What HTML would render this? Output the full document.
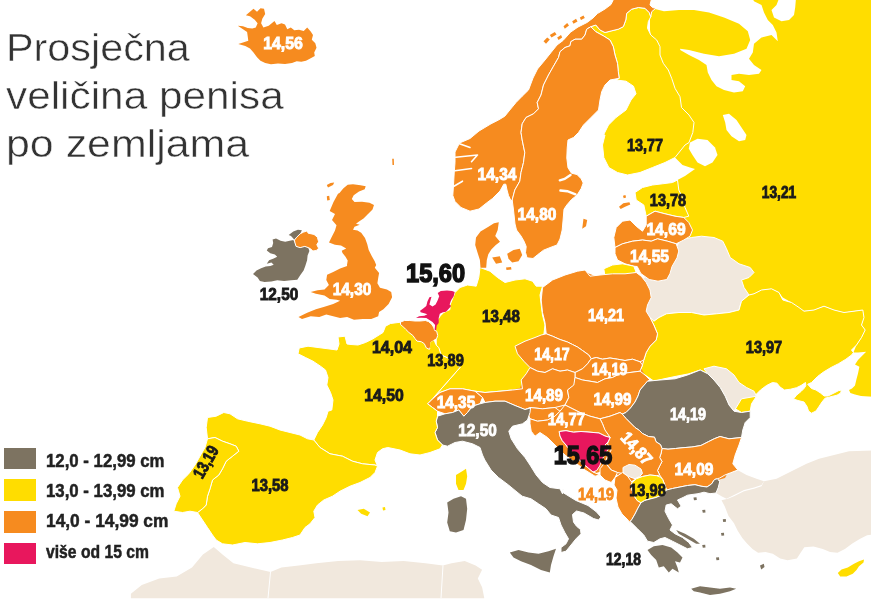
<!DOCTYPE html>
<html><head><meta charset="utf-8"><title>Prosječna veličina penisa po zemljama</title>
<style>
html,body{margin:0;padding:0;background:#fff;}
body{width:871px;height:600px;overflow:hidden;position:relative;font-family:"Liberation Sans",sans-serif;}
svg{position:absolute;left:0;top:0;}
svg text{font-family:"Liberation Sans",sans-serif;font-weight:bold;}
.title{position:absolute;left:6px;top:24px;font-size:38px;line-height:48px;color:#333;white-space:nowrap;-webkit-text-stroke:0.5px #fff;}
.title span{display:block;transform-origin:0 0;}
.legend{position:absolute;left:0;top:0;}
.sw{position:absolute;left:3.7px;width:32px;height:21.5px;}
.lt{position:absolute;left:45.5px;font-size:18.5px;font-weight:bold;color:#222;line-height:24px;white-space:nowrap;transform-origin:0 50%;-webkit-text-stroke:0.5px #222;}
</style></head><body>
<svg width="911" height="640" viewBox="-20 -20 911 640" style="left:-20px;top:-20px;filter:blur(0.45px)">
<g id="map">
<polygon points="130.9,593.8 141.8,585.1 159.3,578.5 176.7,576.4 192,567.6 202.9,554.5 213.8,547.1 222.5,554.5 233.4,563.3 250.9,567.6 270.5,572 281.4,567.6 298.9,565.4 316.3,563.3 338.2,561.1 360,560.2 381.8,562 403.6,561.1 425.4,563.3 442.9,565.4 451.6,563.3 464.7,561.1 475.6,565.4 482.1,569.8 477.8,578.5 482.1,587.3 484.3,598.2 130.9,598.2" fill="#f1e8dd"/>
<polygon points="719.7,478 724.9,475 730.9,472.7 738.4,470.5 746.5,475 756.5,478.8 764,481.2 761.5,485 754,487.5 744,490 734,495 726.5,498.8 721.5,496.2 716,493 718.2,487.7 719.7,481.7" fill="#f1e8dd"/>
<polygon points="764,481.2 776.5,478.8 786.5,473.8 796.5,468.8 806.5,463.8 819,458.8 834,455 849,451.2 885,450 885,532.5 867.1,535.3 859.7,539 852.3,543.6 844.9,549.1 837.5,552.8 830.1,551.9 822.8,549.1 813.5,546.4 804.3,547.3 800.6,552.8 796.9,558.4 787.6,560.2 780.2,558.4 772.8,553.8 765.5,551.9 758.1,552.8 752.5,549.1 747,543.6 742.3,538.1 737.7,530.7 734,523.3 728.5,515.9 724.8,506.6 721.5,500.2 727.8,498.8 734,496.2 744,491.2 754,488.8 761.5,486.2" fill="#f1e8dd"/>
<polygon points="650,-8 885,-8 885,397.5 861,396 855,394.5 850.4,393 849,390 852,388.5 855,385.5 856.4,379.5 858,373.5 859.4,366.7 855,364.5 858,360 862.4,355.5 866.2,351.7 858,352.5 853.4,352.5 856.5,345 861.5,337.5 865,330 861.5,325 864,317.5 862.75,310 854,311 844,312.5 834,310 824,306 814,310 804,311 796.5,307.5 791.5,302.5 782.75,297.5 779,292.5 771.5,288.75 761.5,290 754,293.75 749,295 720,290 690,250 680,220 677.5,184 677.5,180 685,176 690,172.5 695,169 690,167.5 682.5,165 675,157.5 660,100 650,30" fill="#ffdd00"/>
<polygon points="646,-8 749,-8 754,1.2 761.5,5 764,12.5 767.8,20 772.8,25 776.5,32.5 777.8,41.2 771.5,35 761.5,37.5 754,43.8 752.8,52.5 749,58.8 754,65 761.5,70 759,73.8 749,75 739,73.8 731.5,75 731.5,80 739,81.2 745.2,86.2 742.8,91.2 734,92.5 724,90 716.5,86.2 711.5,80 707.8,72.5 706.5,65 699,60 689,55 680.2,50 680.2,48.8 689,50 704,53.8 719,56.2 734,53.8 746.5,48.8 750.2,40 747.8,31.2 739,23.8 724,17.5 709,12.5 694,10 679,10 664,11.2 654,8.8 646,8" fill="#ffffff"/>
<polygon points="771.5,10 776.5,5 781.5,-8 796.5,-8 795.2,7.5 794,15 789,20 781.5,21.2 774,17.5" fill="#ffffff"/>
<polygon points="722.8,115 729,113.8 736.5,120 741.5,127.5 746.5,135 745.2,140 739,141.2 731.5,136.2 726.5,130 725.2,122.5" fill="#ffffff"/>
<polygon points="690,142.5 697.5,138.8 707.5,140 715,147.5 717.5,155 712.5,162.5 705,166.2 697.5,162.5 692.5,155 688.8,148.8" fill="#ffffff"/>
<polygon points="650,317.5 640,310 640,280 660,268 675,250 680,240 691.5,237.5 701.5,236.2 714,237.5 722.8,241.2 726.5,248.8 730.2,257.5 739,263.8 750.2,267.5 754,272.5 749,277.5 741.5,280 744,287.5 749,295 741.5,301.2 739,310 729,312.5 716.5,313.8 704,315 691.5,312.5 679,312.5 666.5,313.8 659,317.5 654,321.2" fill="#f1e8dd" stroke="#fff" stroke-width="1" stroke-linejoin="round"/>
<polygon points="654,321.2 659,317.5 666.5,313.8 679,312.5 691.5,312.5 704,315 716.5,313.8 729,312.5 739,310 741.5,301.2 749,295 754,293.8 761.5,290 771.5,288.8 779,292.5 782.8,300 791.5,302.5 799,307.5 804,311.2 814,310 824,306.2 834,310 844,312.5 854,311.2 862.8,310 864,317.5 861.5,325 865.2,330 861.5,337.5 856.5,345 851.5,350 853.4,352.5 851.9,354.7 845.9,359.2 838.5,363.7 831,367.5 823.5,372 817.5,376.5 811.5,382.5 807.7,384.3 811.5,388.5 816,390 820.5,393 824.2,396 828,396 834,393 838.5,390.7 841.4,390 840.7,393 837,395.2 831,396.7 825,398.2 822,402 819,406.5 816,411 811.5,413.2 808.5,411 807,406.5 804,402 798,400.5 793.5,399 796.5,395.2 801,391.5 804,388.5 805.8,385.8 805.5,382.5 801,385.5 796.5,387.7 790.5,389.2 784.5,390 780,387 777,383.2 772.5,382.5 766.5,385.5 760.5,390 754.5,396 756.5,396.2 751.5,403.8 750.2,411.2 741.5,412.5 729,405 707.8,373.8 700.2,370 689,373.8 676.5,376.2 664,378.8 654,381.2 645,375 640,371.8 642.5,365 643.8,360 646.2,352.5 650,346.2 656.2,340 657.5,333.8 653.8,325 650,317.5" fill="#ffdd00" stroke="#fff" stroke-width="1" stroke-linejoin="round"/>
<polygon points="707.8,373.8 704,368.8 714,366.2 726.5,368.8 734,375 739,382.5 746.5,387.5 754,391.2 756.5,396.2 749,397.5 741.5,398.8 737.8,405 734,411.2 729,405 725.2,396.2 720.2,387.5 714,380" fill="#f1e8dd" stroke="#fff" stroke-width="1" stroke-linejoin="round"/>
<polygon points="590.8,26.7 595.8,25 600,30 605,32.5 611.7,30.8 618.3,29.2 623.3,26.7 625.8,20 626.7,13.3 631.7,9.2 638.3,7.5 645,8.3 649.2,12.5 650.8,16.7 648.3,21.7 647.5,28.3 650.8,35 656.7,40 660,46.7 660,55 663.3,63.3 668.3,70 671.7,78.3 675,88.3 680,96.7 681.5,107.5 689,115 694,122.5 692.8,132.5 689,142.5 685,145 675,157.5 665,162.5 652.5,167.5 640,172.5 627.5,175 617.5,172.5 608.8,167.5 603.8,157.5 602.5,145 605,135 603.5,135 608.5,125 616,117.5 626,110 631,100 636,93.8 633.5,86.2 626,81.2 616,80 619.2,78.3 618.3,71.7 617.5,63.3 615,55 613.3,46.7 610,40 603.3,35.8 595.8,31.7" fill="#ffdd00" stroke="#fff" stroke-width="1" stroke-linejoin="round"/>
<polygon points="617,-8 653.3,-8 650,5 652.5,7.5 655.8,8.3 651.7,11.7 650.8,16.7 649.2,12.5 645,8.3 638.3,7.5 631.7,9.2 626.7,13.3 625.8,20 623.3,26.7 618.3,29.2 611.7,30.8 605,32.5 600,30 595.8,25 590.8,26.7 586.7,29.2 585,35 581.7,39.2 575,39.2 570.8,41.7 570,45.8 565,47.5 560,51.7 558.5,57.5 553.5,66.2 548.5,75 543.5,85 541,95 537.2,102.5 538.5,108.8 533.5,113.8 526,117.5 522.2,123.8 521,132.5 522.2,140 524.8,152.5 523.5,162.5 521,172.5 519.8,181.2 514.8,190 512.2,200 511,200.8 508.5,195.5 507,190 505.8,184.2 503.8,184.2 500,191 492.5,198.5 486.5,203 479,209 470,211.2 461,207.5 455,201.5 452.8,195.5 453.5,185 454.2,173 455,162.5 455,152 459.5,143 470,138.5 479,131 491,123.8 498.5,120 504.8,116.2 509.8,110 516,102.5 522.2,96.2 528.5,90 533,78 537.5,69 545,60 551,52.5 557,45 563,40.5 570.5,32.2 578,27 587,22.5 593,18 597.5,13.5 605,9 611,4.5 617,-8" fill="#f68b1f" stroke="#fff" stroke-width="1" stroke-linejoin="round"/>
<polygon points="543.5,41.2 547.2,37.5 549.8,39.5 546,43.8" fill="#f68b1f"/>
<polygon points="549.8,35 554.8,32 556.5,34.5 551.5,37.5" fill="#f68b1f"/>
<polygon points="557.2,37.5 561,35 562.2,37.5 558.5,40" fill="#f68b1f"/>
<polygon points="563.5,26.2 567.2,23 569,25.5 564.8,28.8" fill="#f68b1f"/>
<polygon points="572.2,21.2 576,18.8 577.5,21.5 573.5,23.8" fill="#f68b1f"/>
<polygon points="579.8,17.5 583.5,15.5 584.8,18 581,20" fill="#f68b1f"/>
<polygon points="590.8,26.7 595.8,31.7 603.3,35.8 610,40 613.3,46.7 615,55 617.5,63.3 618.3,71.7 619.2,78.3 610,80 605,85 601.7,91.7 600,100 598.5,110 591,117.5 583.5,125 578.5,132.5 573.5,137.5 568,140 567.2,148.2 566.8,158 568,167.8 571.5,173.2 577,174.5 581.2,178.8 583.2,183 581.2,188.5 577,195.2 571.5,199.5 566.8,205 564,209.2 563,221 562.2,230 560,239 557,245 551,247.2 543.5,250.2 537.5,254.8 533,258.5 527,257.8 525.5,252.5 526.2,246.5 524,241.2 521,236 516.5,230 515,224 513.5,210 512.2,200 514.8,190 519.8,181.2 521,172.5 523.5,162.5 524.8,152.5 522.2,140 521,132.5 522.2,123.8 526,117.5 533.5,113.8 538.5,108.8 537.2,102.5 541,95 543.5,85 548.5,75 553.5,66.2 558.5,57.5 560,51.7 565,47.5 570,45.8 570.8,41.7 575,39.2 581.7,39.2 585,35 586.7,29.2" fill="#f68b1f" stroke="#fff" stroke-width="1" stroke-linejoin="round"/>
<polygon points="583.5,218.8 587.2,220 586,226.2 582.2,228.8" fill="#f68b1f"/>
<polygon points="619,206.7 623.3,203.2 629.4,202.3 630.3,204.4 625.1,206.7 620.7,208.9" fill="#f68b1f"/>
<polygon points="623,195.7 625.4,195.1 626.1,197.5 623.7,198.2" fill="#f68b1f"/>
<polygon points="635,192.5 642.5,187.5 652.5,185 662.5,183.8 672.5,182.5 677.5,180 678.8,190 682.5,197.5 685,207.5 688.8,216.2 683.8,217.5 675,216.2 665,213.8 655,211.2 646.2,216.2 643.8,205 636.2,200" fill="#ffdd00" stroke="#fff" stroke-width="1" stroke-linejoin="round"/>
<polygon points="646.2,216.2 655,211.2 665,213.8 675,216.2 683.8,217.5 688.8,222.5 692.5,230 690,236.2 683.8,240 676.2,243.8 667.5,241.2 657.5,238.8 651.2,241.2 642.5,240 632.5,241.2 622.5,243.8 615,247.5 613.8,237.5 616.2,227.5 622.5,221.2 630,220 636.2,226.2 642.5,231.2 646.2,225" fill="#f68b1f" stroke="#fff" stroke-width="1" stroke-linejoin="round"/>
<polygon points="615,247.5 622.5,243.8 632.5,241.2 642.5,240 651.2,241.2 657.5,238.8 667.5,241.2 676.2,243.8 678.8,251 677,257.8 672,266.5 670,273.5 666.8,279.5 658,281.2 649.2,279.5 640.8,273.5 637.2,266.5 633.8,266.2 625,263.8 617.5,260 615,253.8" fill="#f68b1f" stroke="#fff" stroke-width="1" stroke-linejoin="round"/>
<polygon points="603.8,268.8 612.5,265 622.5,263.8 633.8,266.2 636.2,272.5 627.5,275 615,275 605,276.2" fill="#ffdd00" stroke="#fff" stroke-width="1" stroke-linejoin="round"/>
<polygon points="480,267.5 490,271.2 497.5,277.5 505,282.5 515,280 525,278.8 532.5,281.2 536.2,286.2 542.5,286.2 540,295 541.2,305 542.5,315 545,325 543.8,335 535,338.8 525,342.5 520,345 522.5,352.5 527.5,360 532.5,367.5 536.2,375 522.5,388.8 512.5,390 500,391.2 485,392.5 475,391.2 462.5,388.8 450,388.8 440,392.5 432.5,398.8 460,367.5 452.5,360 441.2,355 436.2,347.5 436.2,337.5 435,330 436.2,322.5 440,316.2 443.8,312.5 450,309.5 450,305 452.5,298.8 455,292.5 460,287.5 467.5,285 476.2,286.2 478.8,277.5" fill="#ffdd00" stroke="#fff" stroke-width="1" stroke-linejoin="round"/>
<polygon points="546,290 560,278 585,272 600,278 635,275 645,285 648,300 645,312 652,325 655,335 648,346 644,358 641,368 646,377 660,445 700,445 738,440 735,455 732,465 725,478 700,485 670,486 663,480 650,475 640,476 630,482 625,478 606,470 596,473 580,462 565,450 550,438 540,432 532,425 531,410 520,401 502,399 480,394 502,392 520,388 522,382 530,376 537,373 520,349 525,342 540,336 547,334 546,320 543,300" fill="#f68b1f"/>
<polygon points="542.5,287.5 552.5,280 565,275 577.5,271.2 585,270 590,276.2 600,275 612.5,273.8 625,273.8 636.2,272.5 641.2,276.2 646.2,282.5 650,290 651.2,297.5 647.5,305 646.2,311.2 650,317.5 653.8,325 657.5,333.8 656.2,340 650,346.2 646.2,352.5 643.8,360 640,361.8 632.5,359.2 625,360.5 617.5,359.2 610,358 602.5,359.2 596.2,357.5 591.2,358.8 588.8,355 582.5,350.5 577.5,347 572.5,344.5 567.5,342 560,339.5 552.5,336.2 546.2,333.8 545,322.5 542.5,312.5 541.2,300" fill="#f68b1f" stroke="#fff" stroke-width="1" stroke-linejoin="round"/>
<polygon points="515,346.2 525,341.2 535,337.5 541.2,335 546.2,333.8 552.5,336.2 560,339.5 567.5,342 572.5,344.5 577.5,347 582.5,350.5 588.8,355 591.2,358.8 587.5,363.8 582.5,368.8 575,372.5 567.5,370 560,371.2 552.5,368.8 545,372.5 537.5,371.2 530,367.5 523.8,361.2 517.5,353.8" fill="#f68b1f" stroke="#fff" stroke-width="1" stroke-linejoin="round"/>
<polygon points="591.2,358.8 596.2,357.5 602.5,359.2 610,358 617.5,359.2 625,360.5 632.5,359.2 640,361.8 642.5,365 640,371.2 630,372.5 620,373.8 612.5,377.5 605,378.8 597.5,382.5 590,381.2 582.5,380 575,377.5 575,372.5 582.5,368.8 587.5,363.8" fill="#f68b1f" stroke="#fff" stroke-width="1" stroke-linejoin="round"/>
<polygon points="475,391.2 485,392.5 500,391.2 512.5,390 522.5,388.8 521.2,380 526.2,373.8 530,367.5 537.5,371.2 545,372.5 552.5,368.8 560,371.2 567.5,370 575,372.5 575,377.5 575,385 567.5,390 568.8,397.5 565,405 555,407.5 542.5,408.8 530,407.5 525,409.5 515,405.5 505,401.2 495,401.2 485,402.5 482.5,397.5" fill="#f68b1f" stroke="#fff" stroke-width="1" stroke-linejoin="round"/>
<polygon points="597.5,382.5 605,378.8 612.5,377.5 620,373.8 630,372.5 640,371.2 645,375 650,380 647.5,381.2 640,390 638,396 635,402 630.5,408 626,412.5 622.2,414 620,412.5 610,416.2 600,418.8 590,416.2 580,412.5 570,407.5 565,405 568.8,397.5 567.5,390 573.8,385 575,377.5 575,377.5 582.5,380 590,381.2" fill="#f68b1f" stroke="#fff" stroke-width="1" stroke-linejoin="round"/>
<polygon points="622.2,414 626,412.5 630.5,408 635,402 638,396 640,390 647.5,381.2 660,380 675,378.8 687.5,375 700.2,370 707.8,373.8 714,380 720.2,387.5 725.2,396.2 729,405 734,411.2 741.5,412.5 750.2,411.2 750.2,417.5 745.2,422.5 742.8,430 741.5,437.5 729,438.8 720,436.5 714.4,438.7 708.4,441.7 700.9,445.5 691.9,447 683,447.7 675.5,448.5 668,449.2 662,448.5 660.5,444.7 656,441.7 654.5,437.2 648.5,436.5 642.5,433.5 639.5,430.5 635,427.5 630.5,423 626,418.5" fill="#7d7361" stroke="#fff" stroke-width="1" stroke-linejoin="round"/>
<polygon points="662,448.5 668,449.2 675.5,448.5 683,447.7 691.9,447 700.9,445.5 708.4,441.7 714.4,438.7 720,436.5 729,438.8 741.5,437.5 739,445 735.2,455 732.8,463.8 737.8,470 730.9,472.7 724.9,475 719.7,478 717.5,478.7 714.5,479.5 711.5,484 707,487 701,486.2 695,484.7 687.5,485.5 680,487 672.5,488.5 666.5,490 665,485.5 662.7,479.5 659.7,475 657.5,470.5 659.7,466 662,461.5 659.7,457.5 661.2,453" fill="#f68b1f" stroke="#fff" stroke-width="1" stroke-linejoin="round"/>
<polygon points="602.5,423.8 600,418.8 610,416.2 620,412.5 622.2,414 626,418.5 630.5,423 635,427.5 639.5,430.5 642.5,433.5 648.5,436.5 654.5,437.2 656,441.7 660.5,444.7 662,448.5 661.2,453 659.7,457.5 662,461.5 659.7,466 657.5,470.5 659.7,475 656.7,475.7 650,475 642.5,476.5 635,478 626,474.2 617.5,472.5 611.2,470 607.5,465 605,462.5 607.5,456.2 611.2,450 607.5,443.8 610,437.5 605,431.2" fill="#f68b1f" stroke="#fff" stroke-width="1" stroke-linejoin="round"/>
<polygon points="623,467.5 629,464.5 635,465.2 641,469 642.5,473.5 639.5,476.5 635,478.7 630.5,477.2 626,475 623,472" fill="#f1e8dd" stroke="#fff" stroke-width="1" stroke-linejoin="round"/>
<polygon points="600,468.8 605,462.5 611.2,470 617.5,472.5 615,477.5 611.2,482.5 605,480 600,475" fill="#f68b1f" stroke="#fff" stroke-width="1" stroke-linejoin="round"/>
<polygon points="615,477.5 622.5,472.5 627.5,476 632,482.5 631.2,485.5 632,490 634.2,496 637.2,500.5 641,502.7 638,508 635,514 632,519.2 629.7,522.2 627,519 622,514 618,507 616,498 617,490 614,485" fill="#f68b1f" stroke="#fff" stroke-width="1" stroke-linejoin="round"/>
<polygon points="632,482.5 636.5,478.7 642.5,476.5 650,475 656.7,475.7 660.5,477.2 662.7,479.5 665,485.5 666.5,490 665,492.2 661.2,495.2 656,497.5 650,499 644.7,500.5 641,502.7 637.2,500.5 634.2,496 632,490 631.2,485.5" fill="#ffdd00" stroke="#fff" stroke-width="1" stroke-linejoin="round"/>
<polygon points="530,407.5 542.5,408.8 555,407.5 560,411.2 555,416.2 547.5,420 537.5,421.2 530,418.8 527.5,412.5" fill="#f68b1f" stroke="#fff" stroke-width="1" stroke-linejoin="round"/>
<polygon points="560,411.2 565,405 570,407.5 580,412.5 590,416.2 600,418.8 602.5,423.8 605,430 610.2,437.5 605,436 599,433 590,432.2 581,431.5 573.5,432.2 566,430.7 559.2,431.5 560,436 562.2,440.5 566,445 570.5,451 575,455.5 579.5,460 584,464.5 588.5,468.2 593,472 600,475 595,476.2 585,470 575,462.5 565,455 555,445 547.5,437.5 540,432.5 535,436.2 531.2,431.2 530,423.8 530,418.8 537.5,421.2 547.5,420 555,416.2" fill="#f68b1f" stroke="#fff" stroke-width="1" stroke-linejoin="round"/>
<polygon points="559.2,431.5 566,430.7 573.5,432.2 581,431.5 590,432.2 599,433 605,436 610.2,437.5 608,442 605,445 608,449.5 605,454 602,460 599.7,466 596.7,470.5 593,472 588.5,468.2 584,464.5 579.5,460 575,455.5 570.5,451 566,445 562.2,440.5 560,436" fill="#e8175d" stroke="#fff" stroke-width="1" stroke-linejoin="round"/>
<polygon points="629.7,522.2 632,519.2 635,514 638,508 641,502.7 644.7,500.5 650,499 656,497.5 661.2,495.2 665,492.2 666.5,490 672.5,488.5 680,487 687.5,485.5 695,484.7 701,486.2 707,487 711.5,484 714.5,479.5 717.5,478.7 719.7,481.7 718.2,487.7 716,493 710,493.7 704,492.2 698,493.7 692,494.5 687.5,495.2 683,497.5 677.5,500 681.2,506.2 677.5,508.8 671.2,503.8 666.2,505 665,511.2 668.8,518.8 672.5,525 670,530 675,533.8 682.5,537.5 688.8,542.5 692.5,547.5 687.5,548.8 680,545 672.5,541.2 665,537.5 660,538.8 653.8,542.5 647.5,541.2 643.8,535 637.5,528.8 631.2,522.5" fill="#7d7361" stroke="#fff" stroke-width="1" stroke-linejoin="round"/>
<polygon points="647.5,550 653.8,546.2 662.5,545 671.2,547.5 677.5,552.5 682.5,557.5 680,562.5 675,561.2 677.5,567.5 678.8,572.5 672.5,568.8 668.8,572.5 663.8,566.2 658.8,567.5 656.2,560 651.2,555" fill="#7d7361"/>
<polygon points="691.2,588.8 700,586.2 710,587.5 720,588.8 730,587.5 736.2,588.8 730,591.2 720,593.8 710,595 700,592.5 693.8,591.2" fill="#7d7361"/>
<polygon points="676.2,530 685,533.8 693.8,538.8 700,543.8 696.2,543.8 687.5,538.8 678.8,533.8" fill="#7d7361"/>
<polygon points="722.8,519.2 725.8,519 726,521.8 723.2,522" fill="#7d7361"/>
<polygon points="721,533 724,532.8 724.2,535.5 721.5,535.8" fill="#7d7361"/>
<polygon points="702.2,545 705.2,544.8 705.5,547.5 702.8,547.8" fill="#7d7361"/>
<polygon points="716,557.5 719,557.2 719.2,560 716.5,560.2" fill="#7d7361"/>
<polygon points="702.2,510 705.2,509.8 705.5,512.5 702.8,512.8" fill="#7d7361"/>
<polygon points="693.5,497.5 696.5,497.2 696.8,500 694,500.2" fill="#7d7361"/>
<polygon points="760,565.5 763.8,563.8 764.5,567 761.2,569.5" fill="#7d7361"/>
<polygon points="837.8,573 841.5,569.5 847.8,567.5 854,563.8 859,561.2 864,559.5 863.5,562.5 859,566.2 856.5,570 852.8,573.8 846.5,576.5 840.2,576.5" fill="#ffdd00"/>
<polygon points="427.5,403.8 432.5,398.8 440,392.5 450,388.8 462.5,388.8 475,391.2 482.5,397.5 480,403.8 472.5,406.2 467.5,412.5 463.8,416.2 458.8,410 452.5,412.5 445,413.8 437.5,411.2 432.5,407.5" fill="#f68b1f" stroke="#fff" stroke-width="1" stroke-linejoin="round"/>
<polygon points="437.5,416.2 445,413.8 452.5,412.5 458.8,410 463.8,416.2 467.5,412.5 472.5,406.2 480,403.8 485,402.5 495,401.2 505,401.2 515,405.5 525,409.5 530.5,408 530,412.5 527.5,420 522.5,423.8 512.5,426.2 508.8,431.2 511.2,438.8 517.5,448.8 525,457.5 530,465 536.2,475 542.5,482.5 550,487.5 560,488.8 562.5,493.8 563.5,487.5 562.2,492 571,497.5 576,500.5 588,505.5 596,511.5 601,517 598.5,520 593.5,518.5 584,513 576.5,511 572.5,514.5 573.5,522 576.5,526.2 580.5,529.5 581,533.8 576,538.8 571,545 566,551.2 561,552.5 561,547.5 566,543.8 568.5,538.8 564.8,532.5 561,525 558.5,517.5 551,515 546,508.8 538.5,503.8 531,498.8 522.2,496.2 516,491.2 508.5,485 498.5,477.5 491,470 484.8,460 482.5,455 480,447.5 472.5,443.8 462.5,441.2 455,442.5 447.5,446.2 442.5,445 437.5,440 435,432.5 437.5,427.5 436.2,421.2" fill="#7d7361" stroke="#fff" stroke-width="1" stroke-linejoin="round"/>
<polygon points="509.8,552.5 518.5,550 528.5,552.5 538.5,553.8 548.5,551.2 556,548.8 553.5,556.2 551,565 549.8,572.5 541,570 531,565 521,561.2 513.5,557.5" fill="#7d7361"/>
<polygon points="447.2,502.5 453.5,498.8 461,496.2 466,498.8 467.2,508.8 466,520 463.5,530 456,532.5 449.8,531.2 447.2,522.5 448.5,512.5" fill="#7d7361"/>
<polygon points="456,475 462.2,471.2 466,468.8 467.2,476.2 466,483.8 463.5,490 458.5,490 456,483.8" fill="#ffdd00"/>
<polygon points="390.5,323.5 402,322 415,326 425,333 432,340 438,347 438.8,347.5 441.2,355 452.5,360 460,367.5 432.5,398.8 427.5,403.8 432.5,407.5 437.5,411.2 437.5,416.2 436.2,421.2 437.5,427.5 435,432.5 437.5,440 442.5,445 440,448.8 430,452.5 420,455 410,453.8 400,450 387.8,447.5 382.5,448.8 377.5,452.5 375,460 377.5,466.2 375,465 362.5,463.8 352.5,461.2 342.5,456.2 330,453.8 320,447.5 313.8,440 317.5,432.5 322.5,425 326.2,417.5 328,411.2 331.8,410 333,400 330.5,392.5 326.8,385 328,377.5 325.5,370 320.5,366.2 313,361.2 305.5,357.5 298,353.8 299.2,348 308,346.2 318,347.5 328,348.8 337,350 339,344 338,337 345,336.2 347,344 351,344.5 358,345 365.5,342.5 373,338.8 383,332.5 385.5,326.2" fill="#ffdd00" stroke="#fff" stroke-width="1" stroke-linejoin="round"/>
<polygon points="400.5,322 404.6,320.5 409.8,320.5 415,321 420.1,321 425.3,320.5 428.4,321.5 431.5,324.1 433.6,327.2 434.6,330.3 436.7,331.3 437.7,335.5 436.7,338.6 433.6,340.6 430.5,342.7 430.5,346.8 429.4,349.4 426.3,347.9 424.3,343.7 421.2,341.7 417,341.1 415,338.6 412.9,335.5 408.8,332.4 405.7,329.3 402.6,326.2 400.5,324.6" fill="#f68b1f" stroke="#fff" stroke-width="1" stroke-linejoin="round"/>
<polygon points="430.2,342.5 433.8,340.6 435.2,344.2 433.3,349.1 430,347.9" fill="#ffdd00"/>
<polygon points="437.7,293.1 440.8,291 447,290.5 452.1,291 454.7,292.1 453.7,296.2 451.1,300.3 449.6,304.5 451.1,306 449,308.6 446,311.7 442.9,312.2 439.8,313.8 438.7,317.9 438.7,323.1 436.7,325.6 436.1,330.3 434.6,329.8 435.1,325.1 432.5,322 429.4,320 426.3,317.9 421.2,317.7 416,317.9 419.1,316.3 424.3,315.8 427.4,314.3 424.3,313.2 420.6,312.2 420.1,310.7 423.2,308.6 426.3,306 427.4,301.4 429.4,297.2 431.5,296.7 430.5,300.3 429.4,304.5 432.5,306.5 435.6,304.5 437.7,300.3 439.2,296.2" fill="#e8175d"/>
<polygon points="476,237.5 480.5,231.5 488,227 494,223.2 498.8,222.2 497.7,230 495.2,236 500,241.7 495.8,245 491.3,249.5 488.3,254.3 486.8,260 486.2,267.8 480.5,267.8 479.9,260 477.5,252.5 475.2,245" fill="#f68b1f"/>
<polygon points="492.2,257.5 499.8,256.2 502.2,262.5 496,263.8" fill="#f68b1f"/>
<polygon points="507.2,253.8 513.5,250 519.8,248.8 522.2,255 518.5,261.2 512.2,262.5 508.5,258.8" fill="#f68b1f"/>
<polygon points="506,267.5 511,267 511.5,269.5 506.5,270" fill="#f68b1f"/>
<polygon points="207.5,417.5 216.2,416.2 223.8,412.5 230,413.8 237.5,418.8 247.5,421.2 260,423.8 270,426.2 280,430 290,432.5 300,435 307.5,438.8 313.8,440 320,447.5 330,453.8 342.5,456.2 352.5,461.2 362.5,463.8 375,465 377.5,466.2 375,472.5 370,477.5 360,482.5 350,486.2 340,491.2 332.5,496.2 323.8,500 317.5,505 313.8,511.2 315,517.5 310,523.8 305,527.5 300,535 292.5,537.5 282.5,540 270,542.5 257.5,543.8 245,542.5 232.5,545 222.5,543.8 216.2,540 212.5,535 207.5,527.5 202.5,520 197.5,512.5 202.5,508.8 206.2,505 207.5,496.2 210,488.8 212.5,480 218.8,475 222.5,468.8 226.2,461.2 232.5,456.2 238.8,451.2 236.2,446.2 230,443.8 222.5,441.2 215,437.5 207.5,438.8 206.2,427.5" fill="#ffdd00" stroke="#fff" stroke-width="1" stroke-linejoin="round"/>
<polygon points="207.5,438.8 215,437.5 222.5,441.2 230,443.8 236.2,446.2 238.8,451.2 232.5,456.2 226.2,461.2 222.5,468.8 218.8,475 212.5,480 210,488.8 207.5,496.2 206.2,505 202.5,508.8 197.5,512.5 190,511.2 182.5,512.5 173.8,511.2 176.2,503.8 180,496.2 177.5,487.5 182.5,480 188.8,473.8 195,465 200,456.2 205,447.5" fill="#ffdd00" stroke="#fff" stroke-width="1" stroke-linejoin="round"/>
<polygon points="357.5,510 363.8,508.8 370,512.5 367.5,516.2 361.2,513.8" fill="#ffdd00"/>
<polygon points="382.5,507.5 385,507 385.5,510 383,510.5" fill="#ffdd00"/>
<polygon points="339.5,193 343.2,188.5 347.7,184.7 353,184.3 360.5,185.2 365.7,186.2 364.7,189.2 359,191.5 353.7,195.2 351.8,199 354.5,202 362,201.7 369.5,202.7 374,205 372.5,209.5 368,214 363.5,218.5 359,221.5 356,223.7 359.7,224.8 354.5,226.7 353,229.7 357.5,230.5 361.2,232.7 365,238 367.2,244 368.7,250 371.7,256 374.7,261.2 376.2,265 374.8,267.7 379.1,272.9 378.2,278.1 377.4,283.3 380,287.7 386.9,289.4 391.2,292 392.1,297.2 388.6,304.1 383.4,309.3 379.1,311.9 378.2,316.3 371.3,318.9 362.7,318.9 354,319.7 347.1,317.1 340.1,318 333.2,316.3 326.3,314.5 319.3,317.1 310.7,316.3 302,318.9 298.5,317.1 307.2,312.8 315.9,309.3 324.5,306.7 333.2,304.1 340.1,300.7 336.7,299.8 329.7,298.9 324.5,295.5 315.9,293.7 310.7,292 317.6,290.3 324.5,289.4 328.9,285.1 326.3,279.9 327.1,274.7 333.2,272.1 340.1,268.6 347.1,266 347,265 347.7,260.5 345.5,256.7 342.5,253 341.7,250.7 346.2,248.5 341,245.5 335,244.7 329,242.5 331.2,238 335,230.5 336.5,225.2 332,220 335,214 329.7,211 333.5,202 338,193.7" fill="#f68b1f"/>
<polygon points="326.8,185 330.5,183 334.2,182.5 333,185 328,187.5" fill="#f68b1f"/>
<polygon points="326.8,196.2 329.2,195.8 329.8,200 327.2,200.5" fill="#f68b1f"/>
<polygon points="392.2,158.8 393.8,158.8 394,165 392.5,165" fill="#f68b1f"/>
<polygon points="288.7,234.9 293.3,231.5 297.9,229.8 301.9,230.3 300.2,233.8 296.7,237.2 294.4,240.1 293.3,238.4 291,236.1" fill="#7d7361"/>
<polygon points="272.6,239.5 276,238.4 280.6,240.7 285.2,241.8 289.8,240.7 293.3,240.1 295,243 296.1,246.4 300.2,247.6 304.8,246.4 308.2,247.6 309.4,251 307.6,255.6 307.1,260.2 305.3,266 303.6,270.6 300.2,275.2 297.3,279.8 291,280.3 284.1,280.9 277.2,280.3 271.4,281.5 264.5,282.1 259.9,280.9 257.6,277.5 253,274 256.5,270.6 261.1,268.3 265.7,266.6 270.3,266 273.7,264.8 271.4,262.5 266.8,263.7 269.1,260.2 273.7,258.5 277.2,256.8 274.9,254.5 270.3,253.3 266.8,250.5 268,248.2 272,247 273.2,243" fill="#7d7361"/>
<polygon points="294.4,240.1 296.7,237.2 300.2,233.8 303.6,232.1 307.1,230.9 308.2,233.2 314,234.4 317.4,237.2 318.6,241.8 316.8,244.7 318.6,248.2 316.3,250.5 312.8,251 310.5,248.7 308.2,247.6 304.8,246.4 300.2,247.6 296.1,246.4 295,243" fill="#f68b1f" stroke="#fff" stroke-width="1" stroke-linejoin="round"/>
<polygon points="237.8,25.7 243,26.3 247.7,28 252.3,28.6 255.8,27.4 257.6,23.3 254.7,19.8 250,16.3 245.9,15.2 248.8,12.8 253.5,8.8 257,11.7 260.5,8.2 264,8.8 265.2,14 262.3,18.7 261.1,23.3 263.4,27.4 268.7,25.7 274.5,21 276.8,25.1 281.5,23.3 285,24.5 287.3,29.2 290.8,27.4 294.3,30.3 299,29.8 303.7,30.9 307.2,27.4 310.7,31.5 313,35 311.8,39.7 315.3,43.2 316.5,47.8 314.2,52.5 314.8,56 310.7,58.3 306,60.7 301.3,61.8 296.7,61.3 292,63 285,63.9 278,63.6 271,64.2 265.2,63 260.5,60.7 257,57.2 253.5,52.5 250,48.4 245.3,46.1 238.3,44.1 243,42.6 248.3,40.8 247.7,36.2 247.1,32.1 243,29.2" fill="#f68b1f"/>
<path d="M270.5,572 L268,598 M443,565.4 L441,598" stroke="#fff" stroke-width="1" fill="none"/>
<path d="M459.5,143.7 L470,147.5 M455.7,157.2 L477.5,155 M471.5,161.7 L477,155.5 M455,170.7 L471.5,168.5 M453.5,186.5 L462.5,181.2" stroke="#fff" stroke-width="1.6" fill="none" stroke-linecap="round"/>
<path d="M559.8,180.3 L564.6,179 L570.5,175 M560.4,190.5 L567.4,191.2 L575.5,194.3" stroke="#fff" stroke-width="2.4" fill="none" stroke-linecap="round"/>
</g>
<g id="labels">
<text x="283" y="49.1" fill="#fff" stroke="#fff" stroke-width="0.9" font-size="17" text-anchor="middle" textLength="39.7" lengthAdjust="spacingAndGlyphs">14,56</text>
<text x="279" y="299.6" fill="#1a1a1a" stroke="#1a1a1a" stroke-width="0.9" font-size="17" text-anchor="middle" textLength="38.4" lengthAdjust="spacingAndGlyphs">12,50</text>
<text x="352" y="294.6" fill="#fff" stroke="#fff" stroke-width="0.9" font-size="17" text-anchor="middle" textLength="38.7" lengthAdjust="spacingAndGlyphs">14,30</text>
<text x="392" y="352.6" fill="#1a1a1a" stroke="#1a1a1a" stroke-width="0.9" font-size="17" text-anchor="middle" textLength="40.1" lengthAdjust="spacingAndGlyphs">14,04</text>
<text x="384" y="400.6" fill="#1a1a1a" stroke="#1a1a1a" stroke-width="0.9" font-size="17" text-anchor="middle" textLength="39.4" lengthAdjust="spacingAndGlyphs">14,50</text>
<text x="501" y="321.6" fill="#1a1a1a" stroke="#1a1a1a" stroke-width="0.9" font-size="17" text-anchor="middle" textLength="37.8" lengthAdjust="spacingAndGlyphs">13,48</text>
<text x="445.5" y="366.1" fill="#1a1a1a" stroke="#1a1a1a" stroke-width="0.9" font-size="17" text-anchor="middle" textLength="36.6" lengthAdjust="spacingAndGlyphs">13,89</text>
<text x="552" y="360.1" fill="#fff" stroke="#fff" stroke-width="0.9" font-size="17" text-anchor="middle" textLength="35.5" lengthAdjust="spacingAndGlyphs">14,17</text>
<text x="606" y="320.6" fill="#fff" stroke="#fff" stroke-width="0.9" font-size="17" text-anchor="middle" textLength="36.0" lengthAdjust="spacingAndGlyphs">14,21</text>
<text x="609.5" y="375.1" fill="#fff" stroke="#fff" stroke-width="0.9" font-size="17" text-anchor="middle" textLength="35.800000000000004" lengthAdjust="spacingAndGlyphs">14,19</text>
<text x="544" y="400.6" fill="#fff" stroke="#fff" stroke-width="0.9" font-size="17" text-anchor="middle" textLength="38.0" lengthAdjust="spacingAndGlyphs">14,89</text>
<text x="612.5" y="404.6" fill="#fff" stroke="#fff" stroke-width="0.9" font-size="17" text-anchor="middle" textLength="38.0" lengthAdjust="spacingAndGlyphs">14,99</text>
<text x="566.4" y="425.1" fill="#fff" stroke="#fff" stroke-width="0.9" font-size="17" text-anchor="middle" textLength="37.4" lengthAdjust="spacingAndGlyphs">14,77</text>
<text x="456" y="407.6" fill="#fff" stroke="#fff" stroke-width="0.9" font-size="17" text-anchor="middle" textLength="38.300000000000004" lengthAdjust="spacingAndGlyphs">14,35</text>
<text x="477.5" y="435.6" fill="#fff" stroke="#fff" stroke-width="0.9" font-size="17" text-anchor="middle" textLength="38.4" lengthAdjust="spacingAndGlyphs">12,50</text>
<text x="688" y="419.6" fill="#fff" stroke="#fff" stroke-width="0.9" font-size="17" text-anchor="middle" textLength="35.800000000000004" lengthAdjust="spacingAndGlyphs">14,19</text>
<text x="694" y="474.6" fill="#fff" stroke="#fff" stroke-width="0.9" font-size="17" text-anchor="middle" textLength="38.9" lengthAdjust="spacingAndGlyphs">14,09</text>
<text x="647.5" y="495.6" fill="#1a1a1a" stroke="#1a1a1a" stroke-width="0.9" font-size="17" text-anchor="middle" textLength="36.6" lengthAdjust="spacingAndGlyphs">13,98</text>
<text x="596" y="500.1" fill="#f68b1f" stroke="#f68b1f" stroke-width="0.9" font-size="17" text-anchor="middle" textLength="35.800000000000004" lengthAdjust="spacingAndGlyphs">14,19</text>
<text x="623.5" y="565.1" fill="#1a1a1a" stroke="#1a1a1a" stroke-width="0.9" font-size="17" text-anchor="middle" textLength="34.8" lengthAdjust="spacingAndGlyphs">12,18</text>
<text x="764" y="353.1" fill="#1a1a1a" stroke="#1a1a1a" stroke-width="0.9" font-size="17" text-anchor="middle" textLength="36.3" lengthAdjust="spacingAndGlyphs">13,97</text>
<text x="779" y="198.1" fill="#1a1a1a" stroke="#1a1a1a" stroke-width="0.9" font-size="17" text-anchor="middle" textLength="34.6" lengthAdjust="spacingAndGlyphs">13,21</text>
<text x="645" y="150.6" fill="#1a1a1a" stroke="#1a1a1a" stroke-width="0.9" font-size="17" text-anchor="middle" textLength="36.0" lengthAdjust="spacingAndGlyphs">13,77</text>
<text x="668" y="205.6" fill="#1a1a1a" stroke="#1a1a1a" stroke-width="0.9" font-size="17" text-anchor="middle" textLength="36.3" lengthAdjust="spacingAndGlyphs">13,78</text>
<text x="666" y="234.6" fill="#fff" stroke="#fff" stroke-width="0.9" font-size="17" text-anchor="middle" textLength="39.2" lengthAdjust="spacingAndGlyphs">14,69</text>
<text x="649.5" y="261.6" fill="#fff" stroke="#fff" stroke-width="0.9" font-size="17" text-anchor="middle" textLength="39.0" lengthAdjust="spacingAndGlyphs">14,55</text>
<text x="497" y="179.6" fill="#fff" stroke="#fff" stroke-width="0.9" font-size="17" text-anchor="middle" textLength="39.0" lengthAdjust="spacingAndGlyphs">14,34</text>
<text x="537" y="219.6" fill="#fff" stroke="#fff" stroke-width="0.9" font-size="17" text-anchor="middle" textLength="38.9" lengthAdjust="spacingAndGlyphs">14,80</text>
<text x="270" y="490.6" fill="#1a1a1a" stroke="#1a1a1a" stroke-width="0.9" font-size="17" text-anchor="middle" textLength="37.1" lengthAdjust="spacingAndGlyphs">13,58</text>
<text x="206" y="467.6" fill="#1a1a1a" stroke="#1a1a1a" stroke-width="0.9" font-size="17" text-anchor="middle" textLength="34.4" lengthAdjust="spacingAndGlyphs" transform="rotate(-60 206 462)">13,19</text>
<text x="636.4" y="454.1" fill="#fff" stroke="#fff" stroke-width="0.9" font-size="17" text-anchor="middle" textLength="37.7" lengthAdjust="spacingAndGlyphs" transform="rotate(48 636.4 448.5)">14,87</text>
<text x="435.6" y="282.4" fill="#111" stroke="#111" stroke-width="1.5" font-size="26.5" text-anchor="middle" textLength="59.099999999999994" lengthAdjust="spacingAndGlyphs">15,60</text>
<text x="582.9" y="463.7" fill="#111" stroke="#111" stroke-width="1.5" font-size="26.5" text-anchor="middle" textLength="58.5" lengthAdjust="spacingAndGlyphs">15,65</text>
</g>
</svg>
<div class="title"><span id="t1" style="transform:scaleX(1.088)">Prosječna</span><span id="t2" style="transform:scaleX(1.114)">veličina penisa</span><span id="t3" style="transform:scaleX(1.129)">po zemljama</span></div>
<div class="legend">
<span class="sw" style="top:447.6px;background:#7d7361"></span><span class="lt" style="top:448.7px;transform:scaleX(0.907)">12,0 - 12,99 cm</span>
<span class="sw" style="top:479.4px;background:#ffdd00"></span><span class="lt" style="top:479px;transform:scaleX(0.907)">13,0 - 13,99 cm</span>
<span class="sw" style="top:511px;background:#f68b1f"></span><span class="lt" style="top:509.3px;transform:scaleX(0.937)">14,0 - 14,99 cm</span>
<span class="sw" style="top:542.9px;background:#e8175d"></span><span class="lt" style="top:539.6px;transform:scaleX(0.849)">više od 15 cm</span>
</div>
</body></html>
